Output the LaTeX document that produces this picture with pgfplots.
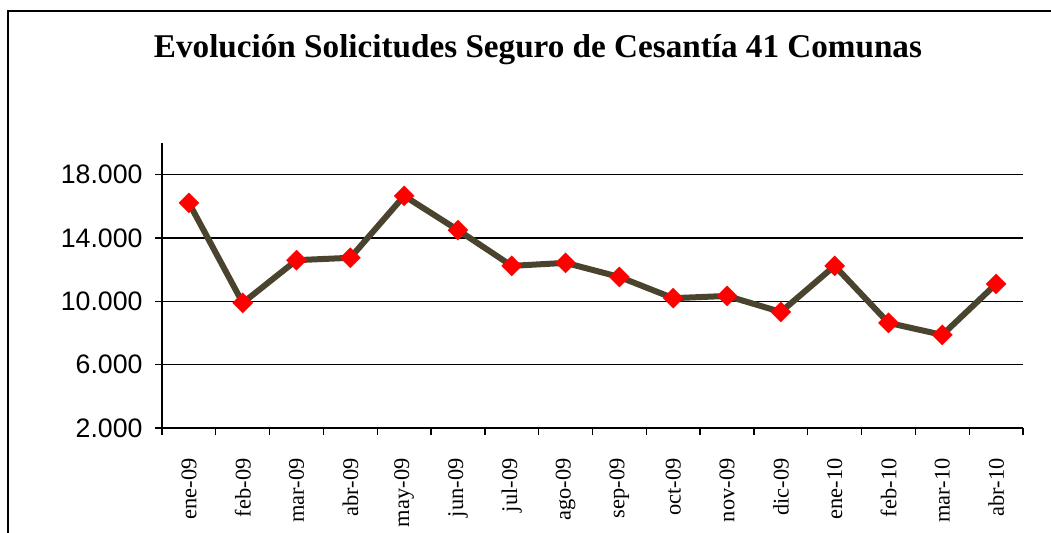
\documentclass[border=0pt]{standalone}
\usepackage{fontspec}
\setmainfont{Liberation Serif}
\setsansfont{Liberation Sans}
\usepackage{pgfplots}
\pgfplotsset{compat=1.18}
\definecolor{linec}{RGB}{74,67,46}
\begin{document}
\begin{tikzpicture}[x=1bp,y=1bp]
\useasboundingbox (0,0) rectangle (1051,-533);
\draw[line width=1.5bp] (8,-533) -- (8,-11) -- (1051,-11);
\node[font=\bfseries\fontsize{33.3}{36}\selectfont] at (538,-50) {Evolución Solicitudes Seguro de Cesantía 41 Comunas};
\begin{axis}[
  at={(162bp,-428bp)}, anchor=south west,
  scale only axis, width=861bp, height=285bp,
  xmin=-0.5, xmax=15.5, ymin=2000, ymax=20000,
  axis x line*=bottom, axis y line*=left,
  axis line style={line width=1.3bp},
  x axis line style={line width=2bp},
  xtick={0,...,15},
  xticklabels={ene-09,feb-09,mar-09,abr-09,may-09,jun-09,jul-09,ago-09,sep-09,oct-09,nov-09,dic-09,ene-10,feb-10,mar-10,abr-10},
  major x tick style={draw=none},
  minor xtick={-0.5,0.5,...,15.5},
  minor tick length=7bp,
  minor x tick style={line width=1.3bp, black},
  tick align=outside,
  xticklabel style={rotate=90, anchor=east, font=\fontsize{22.5}{24}\selectfont},
  xticklabel shift=20bp,
  ytick={2000,6000,10000,14000,18000},
  major tick length=7bp,
  y tick style={line width=1.2bp, black},
  ymajorgrids, grid style={black, line width=1.2bp},
  yticklabel style={font=\sffamily\fontsize{26.8}{28}\selectfont},
  yticklabel shift=9bp,
  scaled y ticks=false,
  /pgf/number format/.cd, fixed, 1000 sep={.}, assume math mode=true,
]
\addplot[color=linec, line width=6bp, mark=square*, mark size=7.2bp,
  mark options={fill=red, draw=red, line width=0.1bp, solid, rotate=45}]
  coordinates {
  (0,16220) (1,9900) (2,12600) (3,12750) (4,16660) (5,14500) (6,12240) (7,12430)
  (8,11540) (9,10200) (10,10340) (11,9330) (12,12240) (13,8640) (14,7880) (15,11100)
  };
\end{axis}
\end{tikzpicture}
\end{document}
